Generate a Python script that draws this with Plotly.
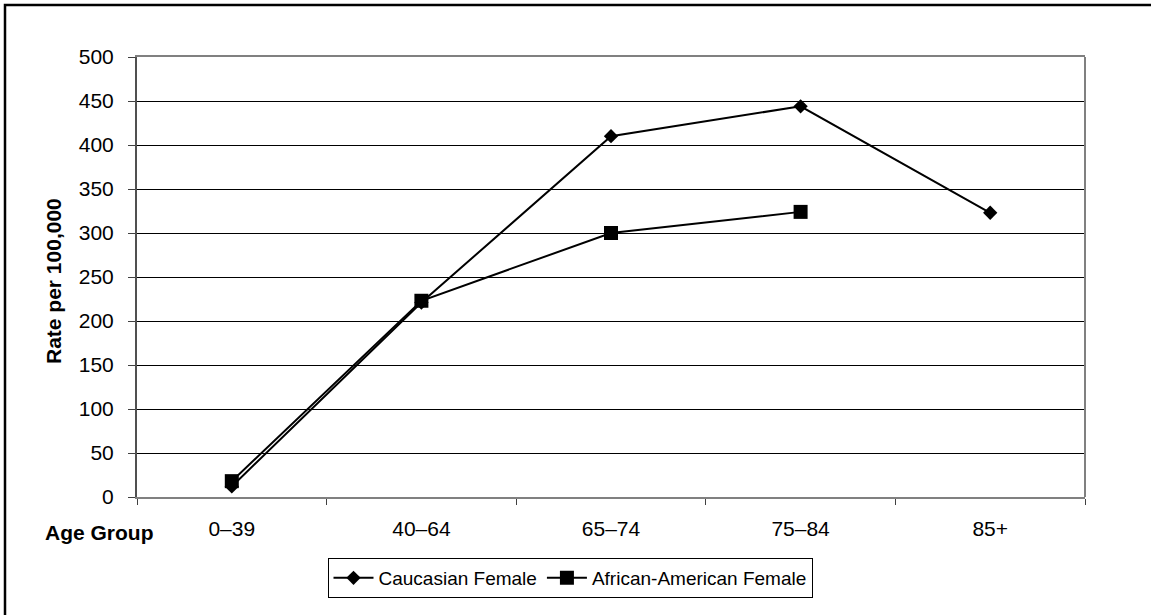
import plotly.graph_objects as go

# Age groups on the category axis
age_groups = ["0–39", "40–64", "65–74", "75–84", "85+"]

# Rates per 100,000 by age group
caucasian_female = [12, 221, 410, 444, 323]
african_american_female = [18, 223, 300, 324, None]

y_ticks = [0, 50, 100, 150, 200, 250, 300, 350, 400, 450, 500]

FONT = "Liberation Sans, Arial, sans-serif"

fig = go.Figure()

fig.add_trace(go.Scatter(
    x=age_groups, y=caucasian_female, name="Caucasian Female",
    mode="lines+markers",
    line=dict(color="black", width=2),
    marker=dict(symbol="diamond", size=11, color="black"),
))

fig.add_trace(go.Scatter(
    x=age_groups, y=african_american_female, name="African-American Female",
    mode="lines+markers",
    line=dict(color="black", width=2),
    marker=dict(symbol="square", size=14, color="black"),
))

# plot-area geometry (pixels) used to place the outer frame and titles
L, R, T, B = 137, 66, 57, 118
W, H = 1151, 615
pw, ph = W - L - R, H - T - B


def px_x(x):
    return (x - L) / pw


def px_y(y):
    return (H - B - y) / ph


fig.update_layout(
    width=W, height=H,
    margin=dict(l=L, r=R, t=T, b=B),
    paper_bgcolor="white", plot_bgcolor="white",
    font=dict(family=FONT, color="black", size=21),
    showlegend=True,
    legend=dict(
        orientation="h",
        x=px_x(570), y=px_y(578), xanchor="center", yanchor="middle",
        bordercolor="black", borderwidth=1,
        font=dict(size=19, family=FONT),
        bgcolor="white",
        itemwidth=40,
    ),
    xaxis=dict(
        type="category",
        tickson="boundaries",
        ticks="outside", ticklen=6, tickcolor="#404040", tickwidth=1,
        showline=True, linecolor="#808080", linewidth=2, mirror=True,
        showgrid=False,
        tickfont=dict(size=21),
        ticklabelstandoff=12,
        range=[-0.5, 4.5],
    ),
    yaxis=dict(
        range=[0, 500],
        tickvals=y_ticks,
        ticks="outside", ticklen=7, tickcolor="#404040", tickwidth=1,
        showline=True, linecolor="#505050", linewidth=2,
        showgrid=True, gridcolor="black", gridwidth=1,
        zeroline=False,
        tickfont=dict(size=21),
        ticklabelstandoff=10,
    ),
    shapes=[
        # right edge of plot area
        dict(type="line", xref="paper", yref="paper", x0=1, x1=1, y0=0, y1=1,
             line=dict(color="#808080", width=2)),
        # outer chart frame
        dict(type="rect", xref="paper", yref="paper",
             x0=px_x(5), x1=px_x(1165), y0=px_y(630), y1=px_y(5),
             line=dict(color="black", width=2.5), layer="above"),
    ],
    annotations=[
        dict(text="<b>Rate per 100,000</b>", textangle=-90,
             xref="paper", yref="paper", x=px_x(53), y=px_y(281),
             xanchor="center", yanchor="middle", showarrow=False,
             font=dict(size=21, family=FONT)),
        dict(text="<b>Age Group</b>",
             xref="paper", yref="paper", x=px_x(99), y=px_y(532),
             xanchor="center", yanchor="middle", showarrow=False,
             font=dict(size=21, family=FONT)),
    ],
)

fig.write_html("out.html")
